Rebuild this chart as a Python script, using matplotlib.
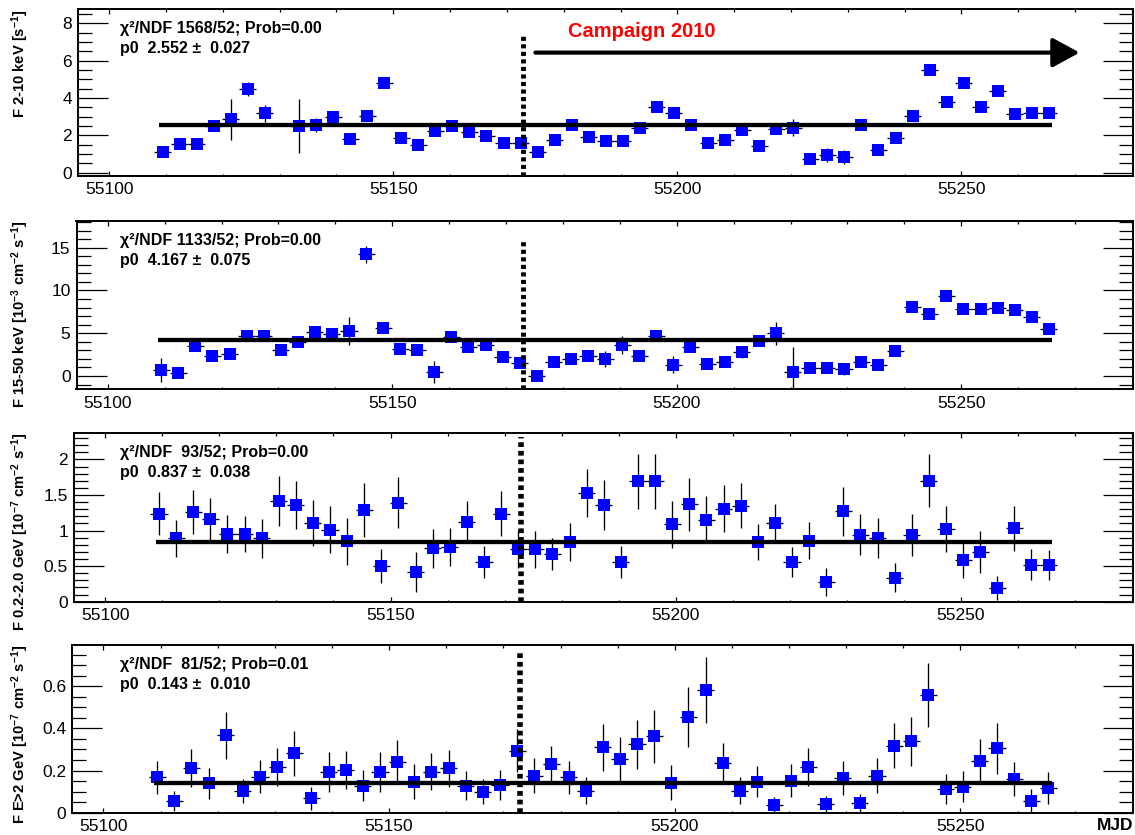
import matplotlib

matplotlib.use("Agg")
import matplotlib.pyplot as plt
from matplotlib.ticker import MultipleLocator, FuncFormatter
import numpy as np

plt.rcParams["font.family"] = ["Liberation Sans", "DejaVu Sans"]
plt.rcParams["mathtext.fontset"] = "custom"
plt.rcParams["mathtext.rm"] = "Liberation Sans:bold"
plt.rcParams["mathtext.it"] = "Liberation Sans:bold"
plt.rcParams["mathtext.bf"] = "Liberation Sans:bold"

# --- data (3-day bins, MJD bin centres) ---
mjd = [55109.4, 55112.4, 55115.4, 55118.4, 55121.4, 55124.4, 55127.4, 55130.4,
       55133.4, 55136.4, 55139.4, 55142.4, 55145.4, 55148.4, 55151.4, 55154.4,
       55157.4, 55160.4, 55163.4, 55166.4, 55169.4, 55172.4, 55175.4, 55178.4,
       55181.4, 55184.4, 55187.4, 55190.4, 55193.4, 55196.4, 55199.4, 55202.4,
       55205.4, 55208.4, 55211.4, 55214.4, 55217.4, 55220.4, 55223.4, 55226.4,
       55229.4, 55232.4, 55235.4, 55238.4, 55241.4, 55244.4, 55247.4, 55250.4,
       55253.4, 55256.4, 55259.4, 55262.4, 55265.4]
bin_half = 1.5

nan = float("nan")
xray_2_10 = [1.13, 1.54, 1.52, 2.5, 2.86, 4.46, 3.18, nan, 2.5, 2.55, 3.0, 1.79, 3.04,
             4.79, 1.84, 1.48, 2.23, 2.5, 2.16, 1.98, 1.57, 1.6, 1.13, 1.75, 2.55, 1.89,
             1.71, 1.71, 2.41, 3.54, 3.21, 2.55, 1.57, 1.75, 2.29, 1.41, 2.32, 2.41, 0.71,
             0.95, 0.82, 2.55, 1.21, 1.88, 3.04, 5.5, 3.77, 4.79, 3.54, 4.38, 3.14, 3.18, 3.21]
xray_2_10_err = [0.15, 0.15, 0.15, 0.2, 1.1, 0.37, 0.45, nan, 1.43, 0.38, 0.27, 0.15, 0.2,
                 0.2, 0.15, 0.15, 0.15, 0.15, 0.15, 0.15, 0.15, 0.15, 0.15, 0.15, 0.2, 0.15,
                 0.15, 0.15, 0.15, 0.2, 0.15, 0.15, 0.15, 0.15, 0.15, 0.15, 0.15, 0.45, 0.15,
                 0.37, 0.38, 0.15, 0.15, 0.15, 0.2, 0.2, 0.2, 0.2, 0.15, 0.2, 0.15, 0.15, 0.15]

bat_15_50 = [0.70, 0.31, 3.54, 2.38, 2.53, 4.71, 4.71, 3.04, 4.01, 5.14, 4.91, 5.26, 14.22,
             5.57, 3.12, 3.04, 0.43, 4.52, 3.35, 3.62, 2.18, 1.48, 0.0, 1.68, 1.95, 2.38,
             1.99, 3.62, 2.34, 4.71, 1.29, 3.35, 1.36, 1.6, 2.84, 4.09, 4.99, 0.51, 0.97,
             0.9, 0.82, 1.68, 1.29, 2.92, 8.02, 7.25, 9.39, 7.79, 7.83, 7.91, 7.71, 6.86, 5.49]
bat_15_50_err = [1.4, 0.2, 0.2, 0.2, 0.6, 0.2, 0.2, 0.2, 0.3, 0.2, 0.2, 1.6, 1.0,
                 0.2, 0.2, 0.2, 1.3, 0.2, 0.2, 0.2, 0.2, 0.2, 0.2, 0.2, 0.2, 0.2,
                 0.9, 1.0, 0.2, 0.2, 1.0, 0.2, 0.2, 0.2, 0.7, 0.2, 1.36, 2.9, 0.2,
                 0.2, 0.75, 0.2, 0.2, 0.2, 0.2, 0.2, 0.2, 0.2, 0.2, 0.2, 0.2, 0.2, 0.2]

lat_02_2 = [1.24, 0.89, 1.26, 1.16, 0.95, 0.95, 0.89, 1.42, 1.36, 1.11, 1.01, 0.85, 1.29,
            0.50, 1.39, 0.42, 0.75, 0.77, 1.12, 0.56, 1.24, 0.74, 0.74, 0.67, 0.84, 1.53,
            1.36, 0.56, 1.69, 1.69, 1.09, 1.37, 1.15, 1.31, 1.35, 0.84, 1.11, 0.56, 0.86,
            0.28, 1.27, 0.94, 0.90, 0.34, 0.94, 1.70, 1.02, 0.58, 0.70, 0.19, 1.03, 0.52, 0.52]
lat_02_2_err = [0.30, 0.26, 0.31, 0.30, 0.27, 0.25, 0.27, 0.35, 0.34, 0.32, 0.33, 0.33, 0.38,
                0.24, 0.36, 0.28, 0.27, 0.27, 0.29, 0.22, 0.31, 0.27, 0.26, 0.22, 0.27, 0.34,
                0.35, 0.23, 0.38, 0.39, 0.33, 0.37, 0.33, 0.33, 0.32, 0.25, 0.27, 0.21, 0.26,
                0.20, 0.34, 0.29, 0.28, 0.20, 0.30, 0.37, 0.32, 0.25, 0.29, 0.17, 0.32, 0.22, 0.21]

lat_gt2 = [0.168, 0.056, 0.214, 0.14, 0.367, 0.103, 0.171, 0.219, 0.283, 0.068, 0.195, 0.203,
           0.129, 0.195, 0.240, 0.148, 0.195, 0.21, 0.129, 0.10, 0.132, 0.295, 0.176, 0.232,
           0.168, 0.105, 0.31, 0.254, 0.325, 0.362, 0.143, 0.454, 0.581, 0.238, 0.105, 0.148,
           0.037, 0.152, 0.216, 0.04, 0.163, 0.044, 0.175, 0.317, 0.338, 0.557, 0.111, 0.124,
           0.246, 0.305, 0.16, 0.056, 0.116]
lat_gt2_err = [0.079, 0.048, 0.09, 0.073, 0.113, 0.059, 0.078, 0.09, 0.107, 0.056, 0.095, 0.092,
               0.073, 0.095, 0.103, 0.084, 0.089, 0.089, 0.07, 0.059, 0.072, 0.104, 0.084, 0.085,
               0.079, 0.065, 0.111, 0.106, 0.116, 0.125, 0.083, 0.141, 0.157, 0.095, 0.065, 0.073,
               0.037, 0.077, 0.09, 0.04, 0.081, 0.044, 0.083, 0.107, 0.115, 0.152, 0.071, 0.075,
               0.105, 0.12, 0.081, 0.056, 0.075]

# constant fits: (p0, err, chi2 string, prob)
fits = [(2.552, 0.027, "1568/52", "0.00"),
        (4.167, 0.075, "1133/52", "0.00"),
        (0.837, 0.038, " 93/52", "0.00"),
        (0.143, 0.010, " 81/52", "0.01")]

ylabels = [r"F 2-10 keV [s$^{-1}$]",
           r"F 15-50 keV [10$^{-3}$ cm$^{-2}$ s$^{-1}$]",
           r"F 0.2-2.0 GeV [10$^{-7}$ cm$^{-2}$ s$^{-1}$]",
           r"F E>2 GeV [10$^{-7}$ cm$^{-2}$ s$^{-1}$]"]

series = [(xray_2_10, xray_2_10_err), (bat_15_50, bat_15_50_err),
          (lat_02_2, lat_02_2_err), (lat_gt2, lat_gt2_err)]

campaign_start = 55172.9
arrow_from, arrow_to = 55175.0, 55270.8

# --- layout (pixels in a 1135x835 canvas) ---
W, H = 1135, 835
RIGHT = 1133
rects = [(78, 9.3, 176), (76.5, 220.7, 389.3), (74, 432.7, 601.7), (72, 645, 812.7)]
ylims = [(-0.18, 8.75), (-1.56, 18.15), (0, 2.376), (0, 0.796)]
ymajor = [2, 5, 0.5, 0.2]
yminor = [0.5, 1, 0.1, 0.05]
dot_top = [7.38, 15.9, 2.32, 0.767]
dot_lw = [3.5, 3.5, 4.0, 4.0]
xlim = (55094.5, 55280.2)

fig = plt.figure(figsize=(W / 100, H / 100), dpi=100)
fmt = FuncFormatter(lambda v, p: "%g" % v)

for i, (left, top, bottom) in enumerate(rects):
    ax = fig.add_axes([left / W, 1 - bottom / H, (RIGHT - left) / W, (bottom - top) / H])
    y, yerr = series[i]
    ax.errorbar(mjd, y, xerr=bin_half, yerr=yerr, fmt="s", ms=8.8, mfc="#0000ff",
                mec="#0000ff", mew=0, ecolor="black", elinewidth=0.95,
                capsize=1.45, capthick=0.95, zorder=3)
    p0, p0err, chi2, prob = fits[i]
    ax.plot([mjd[0] - 0.6, mjd[-1] + 0.6], [p0, p0], color="black", lw=3.1,
            solid_capstyle="butt", zorder=4)
    ax.plot([campaign_start, campaign_start], [ylims[i][0], dot_top[i]], color="black",
            lw=dot_lw[i], linestyle=(0, (0.85, 0.7)), dash_capstyle="butt", zorder=5)

    ax.set_xlim(*xlim)
    ax.set_ylim(*ylims[i])
    ax.xaxis.set_major_locator(MultipleLocator(50))
    ax.xaxis.set_minor_locator(MultipleLocator(10))
    ax.yaxis.set_major_locator(MultipleLocator(ymajor[i]))
    ax.yaxis.set_minor_locator(MultipleLocator(yminor[i]))
    ax.xaxis.set_major_formatter(fmt)
    ax.yaxis.set_major_formatter(fmt)
    ax.tick_params(which="both", direction="in", top=True, right=True, labelsize=12.5, width=0.9)
    ax.tick_params(axis="y", which="major", length=21.6, pad=4.3)
    ax.tick_params(axis="y", which="minor", length=10)
    ax.tick_params(axis="x", which="major", length=3.6, pad=4.5)
    ax.tick_params(axis="x", which="minor", length=1.8)
    for s in ax.spines.values():
        s.set_linewidth(1.4)

    ax.text((25 - left) / (RIGHT - left), 1.0, ylabels[i], transform=ax.transAxes,
            rotation=90, rotation_mode="anchor", ha="right", va="baseline",
            fontsize=10.6, fontweight="bold")

    tx = (120 - left) / (RIGHT - left)
    ax.text(tx, 0.882, "χ²/NDF %s; Prob=%s" % (chi2, prob), transform=ax.transAxes,
            ha="left", va="center", fontsize=11.5, fontweight="bold")
    ax.text(tx, 0.762, "p0  %.3f ±  %.3f" % (p0, p0err), transform=ax.transAxes,
            ha="left", va="center", fontsize=11.5, fontweight="bold")

    if i == 0:
        ax.annotate("", xy=(arrow_to, 6.43), xytext=(arrow_from, 6.43),
                    arrowprops=dict(arrowstyle="-|>,head_length=16.5,head_width=9",
                                    mutation_scale=1, lw=3.0, color="black",
                                    shrinkA=0, shrinkB=0))
        ax.text(55193.7, 7.55, "Campaign 2010", color="#ff0000", fontsize=14.5,
                fontweight="bold", ha="center", va="center")

fig.text(RIGHT / W, 2 / H, "MJD", ha="right", va="bottom", fontsize=12.5, fontweight="bold")

fig.savefig("out.png", dpi=100)
